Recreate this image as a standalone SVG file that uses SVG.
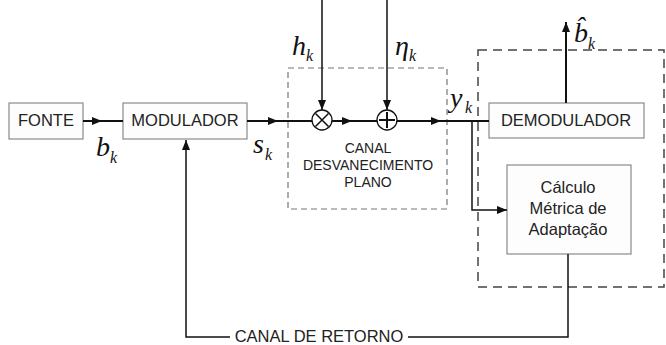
<svg xmlns="http://www.w3.org/2000/svg" width="666" height="345" viewBox="0 0 666 345">
<defs>
<marker id="ah" markerWidth="10" markerHeight="8" refX="10" refY="4" orient="auto" markerUnits="userSpaceOnUse">
<path d="M0,0 L10,4 L0,8 Z" fill="#111"/>
</marker>
<style>
.box{fill:#fdfdfd;stroke:#8a8a8a;stroke-width:1.2}
.lbl{font-family:"Liberation Sans",Arial,sans-serif;font-size:16.5px;fill:#222;text-anchor:middle}
.sm{font-family:"Liberation Sans",Arial,sans-serif;font-size:14px;fill:#222;text-anchor:middle}
.m{font-family:"Liberation Serif","Times New Roman",serif;font-style:italic;fill:#111;font-size:28px}
.k{font-family:"Liberation Serif","Times New Roman",serif;font-style:italic;fill:#111;font-size:16px}
.w{fill:none;stroke:#111;stroke-width:2}
.t{fill:none;stroke:#111;stroke-width:1.5}
</style>
</defs>
<rect width="666" height="345" fill="#fff"/>

<g id="canal">
<rect x="288" y="68" width="159" height="141" fill="none" stroke="#777" stroke-width="1.2" stroke-dasharray="6,4"/>
<text class="sm" x="368" y="153">CANAL</text>
<text class="sm" x="368" y="170">DESVANECIMENTO</text>
<text class="sm" x="368" y="187">PLANO</text>
</g>
<g id="receptor">
<rect x="478" y="50" width="186" height="237" fill="none" stroke="#444" stroke-width="1.5" stroke-dasharray="9,6"/>
</g>

<g id="fonte">
<rect class="box" x="9" y="103" width="74" height="36"/>
<text class="lbl" x="46" y="126">FONTE</text>
</g>
<g id="modulador">
<rect class="box" x="123" y="103" width="124" height="36"/>
<text class="lbl" x="185" y="126">MODULADOR</text>
</g>
<g id="demodulador">
<rect class="box" x="489" y="103" width="155" height="35"/>
<text class="lbl" x="566" y="126">DEMODULADOR</text>
</g>
<g id="calculo">
<rect class="box" x="507" y="165" width="124" height="89"/>
<text class="lbl" x="568" y="193">Cálculo</text>
<text class="lbl" x="568" y="214">Métrica de</text>
<text class="lbl" x="568" y="235">Adaptação</text>
</g>
<g id="mult">
<circle cx="322" cy="120" r="10" fill="#fff" stroke="#111" stroke-width="1.3"/>
<path d="M315.5,113.5 L328.5,126.5 M328.5,113.5 L315.5,126.5" stroke="#111" stroke-width="1.5"/>
</g>
<g id="soma">
<circle cx="387" cy="120" r="10" fill="#fff" stroke="#111" stroke-width="1.3"/>
<path d="M387,112 V128 M379,120 H395" stroke="#111" stroke-width="2"/>
</g>

<g id="conectores">
<path class="w" d="M83,121 H102" marker-end="url(#ah)"/>
<path class="w" d="M102,121 H123"/>
<path class="w" d="M247,121 H278" marker-end="url(#ah)"/>
<path class="w" d="M278,121 H312"/>
<path class="w" d="M332,121 H352" marker-end="url(#ah)"/>
<path class="w" d="M352,121 H377"/>
<path class="w" d="M397,121 H441" marker-end="url(#ah)"/>
<path class="w" d="M441,121 H489"/>
<path class="t" d="M322,0 V110" marker-end="url(#ah)"/>
<path class="t" d="M387,0 V110" marker-end="url(#ah)"/>
<path class="t" d="M472,121 V210 H507" marker-end="url(#ah)"/>
<path class="w" d="M566,103 V22" marker-end="url(#ah)"/>
<path class="t" d="M568,254 V337 H408"/>
<path class="t" d="M230,337 H186 V140" marker-end="url(#ah)"/>
</g>

<g id="rotulos">
<text class="m" x="96" y="156">b</text><text class="k" x="110" y="163">k</text>
<text class="m" x="253" y="153">s</text><text class="k" x="265" y="160">k</text>
<text class="m" x="292" y="55">h</text><text class="k" x="306" y="61">k</text>
<text class="m" x="395" y="55">η</text><text class="k" x="409" y="61">k</text>
<text class="m" x="450" y="107">y</text><text class="k" x="465" y="113">k</text>
<text class="m" x="574" y="42">b̂</text><text class="k" x="588" y="49">k</text>
<text class="lbl" x="319" y="342">CANAL DE RETORNO</text>
</g>
</svg>
